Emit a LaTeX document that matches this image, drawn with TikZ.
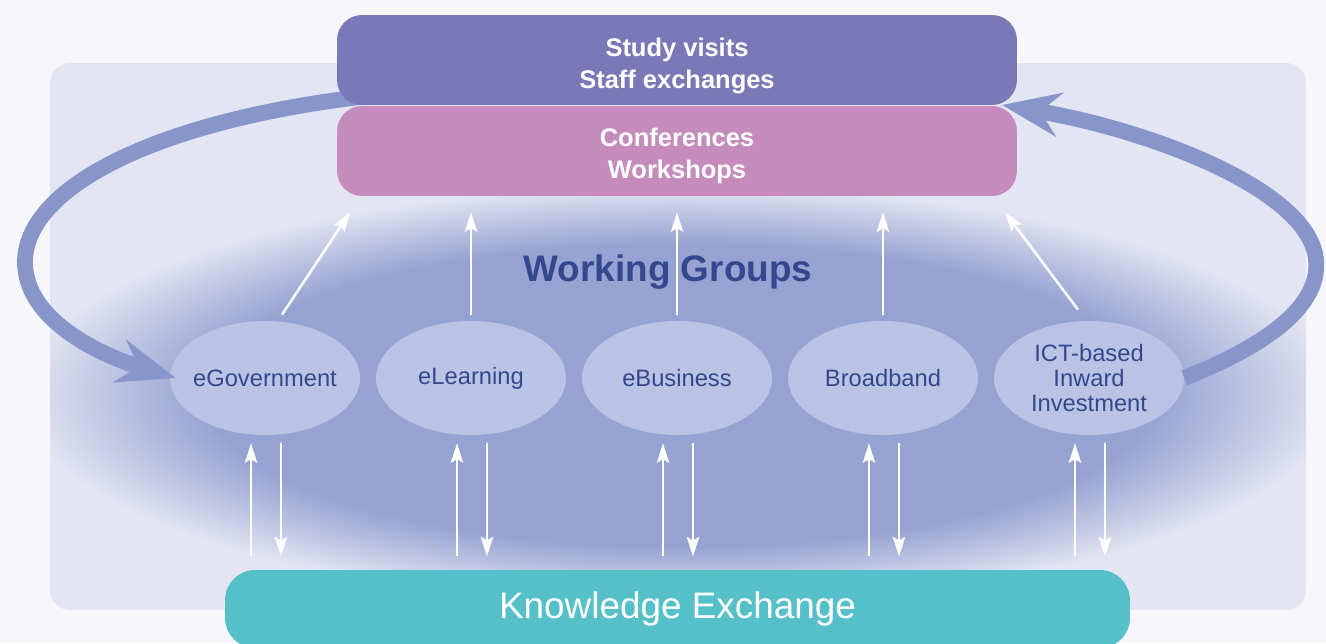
\documentclass[tikz,border=0pt]{standalone}
\usepackage{fontspec}
\setmainfont{Liberation Sans}
\usetikzlibrary{arrows.meta, shapes.geometric, positioning, calc}

\definecolor{pagebg}{HTML}{F7F7FB}
\definecolor{panelbg}{HTML}{E3E5F2}
\definecolor{glowblue}{HTML}{96A3D2}
\definecolor{ellfill}{HTML}{BAC3E3}
\definecolor{elltext}{HTML}{33478E}
\definecolor{visitbox}{HTML}{7A78B6}
\definecolor{confbox}{HTML}{C48BBC}
\definecolor{knowbox}{HTML}{55C0C8}
\definecolor{loopblue}{HTML}{8895CA}
\definecolor{wgtext}{HTML}{34488F}

\pgfdeclareradialshading{wgglow}{\pgfpoint{0bp}{0bp}}{color(0bp)=(glowblue); color(18bp)=(glowblue); color(25bp)=(panelbg); color(50bp)=(panelbg)}

\begin{document}
\begin{tikzpicture}[x=0.02cm, y=-0.02cm,
    wgell/.style={ellipse, fill=ellfill, text=elltext, minimum width=3.8cm, minimum height=2.28cm, inner xsep=-4pt, inner ysep=0pt, align=center, font=\fontsize{13.5}{14}\selectfont},
    topbox/.style={rectangle, rounded corners=0.5cm, minimum width=13.6cm, minimum height=1.8cm},
    boxtext/.style={text=white, align=center, font=\fontsize{14.5}{18}\selectfont\bfseries},
    wa/.style={white, line width=1.4pt, -{Stealth[length=11pt,width=7pt,inset=2pt]}},
    wup/.style={wa, shorten <=0.12cm, shorten >=0.32cm},
    bigloop/.style={loopblue, line width=9pt, -{Stealth[length=33pt,width=25pt,inset=11pt]}}]

    % background and glow
    \useasboundingbox (0,0) rectangle (1326,643);
    \clip (0,0) rectangle (1326,643);
    \fill[pagebg] (0,0) rectangle (1326,643);
    \fill[panelbg, rounded corners=0.4cm] (50,63) rectangle (1306,610);
    \begin{scope}
        \clip[rounded corners=0.4cm] (50,63) rectangle (1306,610);
        \shade[shading=wgglow] (680,395) ellipse [x radius=660, y radius=210];
    \end{scope}

    % working groups
    \node[text=wgtext, font=\fontsize{21}{22}\selectfont\bfseries] (wg) at (668,272) {Working Groups};
    \node[wgell] (egov) at (265,378) {eGovernment};
    \node[wgell] (elearn) at (471,378) {eLearning};
    \node[wgell] (ebus) at (677,378) {eBusiness};
    \node[wgell] (broad) at (883,378) {Broadband};
    \node[wgell] (ict) at (1089,378) {ICT-based\\Inward\\Investment};

    % loops
    \coordinate (loopstart) at (377,95);
    \coordinate (loopend) at (1002,105);
    \draw[bigloop] (loopstart) .. controls (150,120) and (25,190) .. (25,262) .. controls (25,320) and (100,355) .. ($(egov.west)+(6,0)$);
    \draw[bigloop] (ict.east) .. controls (1280,340) and (1320,300) .. (1316,260) .. controls (1310,190) and (1150,130) .. (loopend);

    % boxes
    \node[topbox, fill=confbox] (conf) at (677,151) {};
    \node[topbox, fill=visitbox] (visit) at (677,60) {};
    \node[boxtext] (conftext) at (conf) [yshift=-0.1cm] {Conferences\\Workshops};
    \node[boxtext] (visittext) at (visit) [yshift=-0.12cm] {Study visits\\Staff exchanges};
    \node[rectangle, rounded corners=0.6cm, fill=knowbox, minimum width=18.1cm, minimum height=1.56cm, text=white, font=\fontsize{21}{24}\selectfont] (know) at (677.5,609) {Knowledge Exchange};

    % up to the conferences
    \draw[wa] ($(egov.north)+(17,-6)$) -- ($(conf.south)+(-327,16)$);
    \draw[wup] (elearn.north) -- (elearn.north |- conf.south);
    \draw[wup] (ebus.north) -- (ebus.north |- conf.south);
    \draw[wup] (broad.north) -- (broad.north |- conf.south);
    \draw[wa] ($(ict.north)+(-11,-11)$) -- ($(conf.south)+(328,16)$);

    % knowledge exchange pairs
    \draw[wa] ($(egov.south)+(-14,121)$) -- ($(egov.south)+(-14,8)$);
    \draw[wa] ($(egov.south)+(16,8)$) -- ($(egov.south)+(16,121)$);
    \draw[wa] ($(elearn.south)+(-14,121)$) -- ($(elearn.south)+(-14,8)$);
    \draw[wa] ($(elearn.south)+(16,8)$) -- ($(elearn.south)+(16,121)$);
    \draw[wa] ($(ebus.south)+(-14,121)$) -- ($(ebus.south)+(-14,8)$);
    \draw[wa] ($(ebus.south)+(16,8)$) -- ($(ebus.south)+(16,121)$);
    \draw[wa] ($(broad.south)+(-14,121)$) -- ($(broad.south)+(-14,8)$);
    \draw[wa] ($(broad.south)+(16,8)$) -- ($(broad.south)+(16,121)$);
    \draw[wa] ($(ict.south)+(-14,121)$) -- ($(ict.south)+(-14,8)$);
    \draw[wa] ($(ict.south)+(16,8)$) -- ($(ict.south)+(16,121)$);
\end{tikzpicture}
\end{document}
